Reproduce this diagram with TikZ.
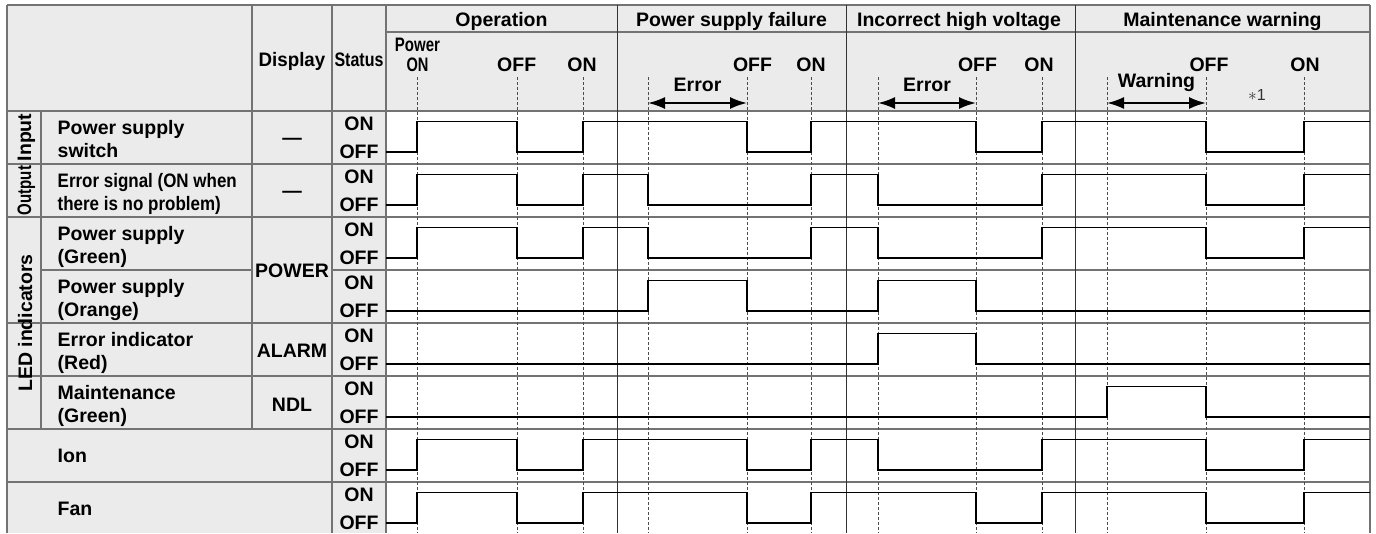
\documentclass[tikz,border=0pt]{standalone}
\usepackage{fontspec}
\setmainfont{Liberation Sans}
\usepackage{graphicx}
\usetikzlibrary{arrows.meta}
\definecolor{hdr}{RGB}{234,235,234}
\newcommand\cnd[2][0.8]{\scalebox{#1}[1]{#2}}
\begin{document}
\begin{tikzpicture}[x=1pt,y=-1pt,
  tline/.style={draw=black!55,line width=1.2pt},
  secline/.style={draw=black!80,line width=1pt},
  evt/.style={draw=black!70,line width=0.9pt,dash pattern=on 3pt off 2pt},
  signal/.style={draw=black,line width=1.7pt,line join=miter},
  txt/.style={anchor=base,inner sep=0pt,font=\fontsize{19.5}{23}\selectfont\bfseries},
  lab/.style={txt,anchor=base west},
  dbl/.style={{Latex[length=17pt,width=12pt]}-{Latex[length=17pt,width=12pt]},line width=2pt}
]
\useasboundingbox (0,0) rectangle (1376,533);
% backgrounds
\fill[hdr] (7,5) rectangle (1370,111);
\fill[hdr] (7,111) rectangle (386,533);
% table lines
\draw[tline] (7,5) -- (1370,5);
\draw[tline] (386,32) -- (1370,32);
\foreach \y in {111,164,217,323,376,429,482} \draw[tline] (7,\y) -- (1370,\y);
\draw[tline] (41,270) -- (252,270);
\draw[tline] (332,270) -- (1370,270);
\draw[tline] (7,5) -- (7,533);
\draw[tline] (41,111) -- (41,429);
\draw[tline] (252,5) -- (252,429);
\draw[tline] (332,5) -- (332,533);
\draw[tline] (386,5) -- (386,533);
\draw[tline] (1370,5) -- (1370,533);
\foreach \x in {617,846,1075} \draw[secline] (\x,5) -- (\x,533);
% event lines
\foreach \x [count=\i] in {417,517,583,648,747,811,878,976,1042,1107,1206,1304} {
  \coordinate (et\i) at (\x,77);
  \coordinate (eb\i) at (\x,533);
  \draw[evt] (et\i) -- (eb\i);
}
% signals
\foreach \r in {111,482}
  \draw[signal] (386,\r+41) -| (417,\r+10.5) -| (517,\r+41) -| (583,\r+10.5) -| (747,\r+41) -| (811,\r+10.5) -| (976,\r+41) -| (1042,\r+10.5) -| (1206,\r+41) -| (1304,\r+10.5) -- (1370,\r+10.5);
\foreach \r in {164,217}
  \draw[signal] (386,\r+41) -| (417,\r+10.5) -| (517,\r+41) -| (583,\r+10.5) -| (648,\r+41) -| (811,\r+10.5) -| (878,\r+41) -| (1042,\r+10.5) -| (1206,\r+41) -| (1304,\r+10.5) -- (1370,\r+10.5);
\draw[signal] (386,311) -| (648,280.5) -| (747,311) -| (878,280.5) -| (976,311) -- (1370,311);
\draw[signal] (386,364) -| (878,333.5) -| (976,364) -- (1370,364);
\draw[signal] (386,417) -| (1107,386.5) -| (1206,417) -- (1370,417);
\def\r{429}
\draw[signal] (386,\r+41) -| (417,\r+10.5) -| (517,\r+41) -| (583,\r+10.5) -| (747,\r+41) -| (811,\r+10.5) -| (878,\r+41) -| (1042,\r+10.5) -| (1206,\r+41) -| (1304,\r+10.5) -- (1370,\r+10.5);
% header texts
\node[txt] (hOp) at (501.5,26.5) {Operation};
\node[txt] (hPsf) at (731.5,26.5) {Power supply failure};
\node[txt] (hIhv) at (959,26.5) {Incorrect high voltage};
\node[txt] (hMw) at (1222.5,26.5) {Maintenance warning};
\node[txt] (hDisp) at (292,66.5) {\cnd[0.96]{Display}};
\node[txt] (hStat) at (359,66.5) {\cnd[0.82]{Status}};
\node[txt] (hPw) at (417.5,51.5) {\cnd[0.77]{Power}};
\node[txt] (hOn0) at (417.5,71.5) {\cnd[0.75]{ON}};
\node[txt] (hOff1) at (516.7,71.5) {OFF};
\node[txt] (hOn1) at (582,71.5) {ON};
\node[txt] (hOff2) at (752.5,71.5) {OFF};
\node[txt] (hOn2) at (811,71.5) {ON};
\node[txt] (hOff3) at (977.5,71.5) {OFF};
\node[txt] (hOn3) at (1039,71.5) {ON};
\node[txt] (hOff4) at (1209,71.5) {OFF};
\node[txt] (hOn4) at (1305,71.5) {ON};
\node[txt] (hErr1) at (697.5,91.5) {Error};
\node[txt] (hErr2) at (927,91.5) {Error};
\node[txt] (hWarn) at (1156.5,87.3) {Warning};
\node[anchor=base,inner sep=0pt,font=\fontsize{16}{18}\selectfont,text=black!80] (hNote) at (1257,100) {$\ast$1};
% double arrows
\coordinate (a1l) at (648,103); \coordinate (a1r) at (747,103);
\coordinate (a2l) at (878,103); \coordinate (a2r) at (976,103);
\coordinate (a3l) at (1107,103); \coordinate (a3r) at (1206,103);
\draw[dbl] (a1l) -- (a1r);
\draw[dbl] (a2l) -- (a2r);
\draw[dbl] (a3l) -- (a3r);
% group labels
\node[txt,rotate=90] (gIn) at (31,137.5) {Input};
\node[txt,rotate=90] (gOut) at (31,190.5) {\cnd[0.77]{Output}};
\node[txt,rotate=90] (gLed) at (32,323) {LED indicators};
% row labels
\node[lab] (l1a) at (57.5,134) {Power supply};
\node[lab] (l1b) at (57.5,157.5) {switch};
\node[lab] (l2a) at (57.5,187) {\cnd[0.87]{Error signal (ON when}};
\node[lab] (l2b) at (57.5,210.5) {\cnd[0.87]{there is no problem)}};
\node[lab] (l3a) at (57.5,240) {Power supply};
\node[lab] (l3b) at (57.5,263.5) {(Green)};
\node[lab] (l4a) at (57.5,293) {Power supply};
\node[lab] (l4b) at (57.5,316.5) {(Orange)};
\node[lab] (l5a) at (57.5,346) {Error indicator};
\node[lab] (l5b) at (57.5,369.5) {(Red)};
\node[lab] (l6a) at (57.5,399) {Maintenance};
\node[lab] (l6b) at (57.5,422.5) {(Green)};
\node[lab] (l7) at (57.5,462.5) {Ion};
\node[lab] (l8) at (57.5,515.5) {Fan};
% display column
\node[txt] (d1) at (292,144) {\textemdash};
\node[txt] (d2) at (292,197) {\textemdash};
\node[txt] (d3) at (292,277.3) {POWER};
\node[txt] (d5) at (292,357.3) {ALARM};
\node[txt] (d6) at (292,411.7) {NDL};
% status column
\foreach \r [count=\i] in {111,164,217,270,323,376,429,482} {
  \node[txt] (son\i) at (359,\r+19.5) {ON};
  \node[txt] (soff\i) at (359,\r+47) {OFF};
}
\end{tikzpicture}
\end{document}
